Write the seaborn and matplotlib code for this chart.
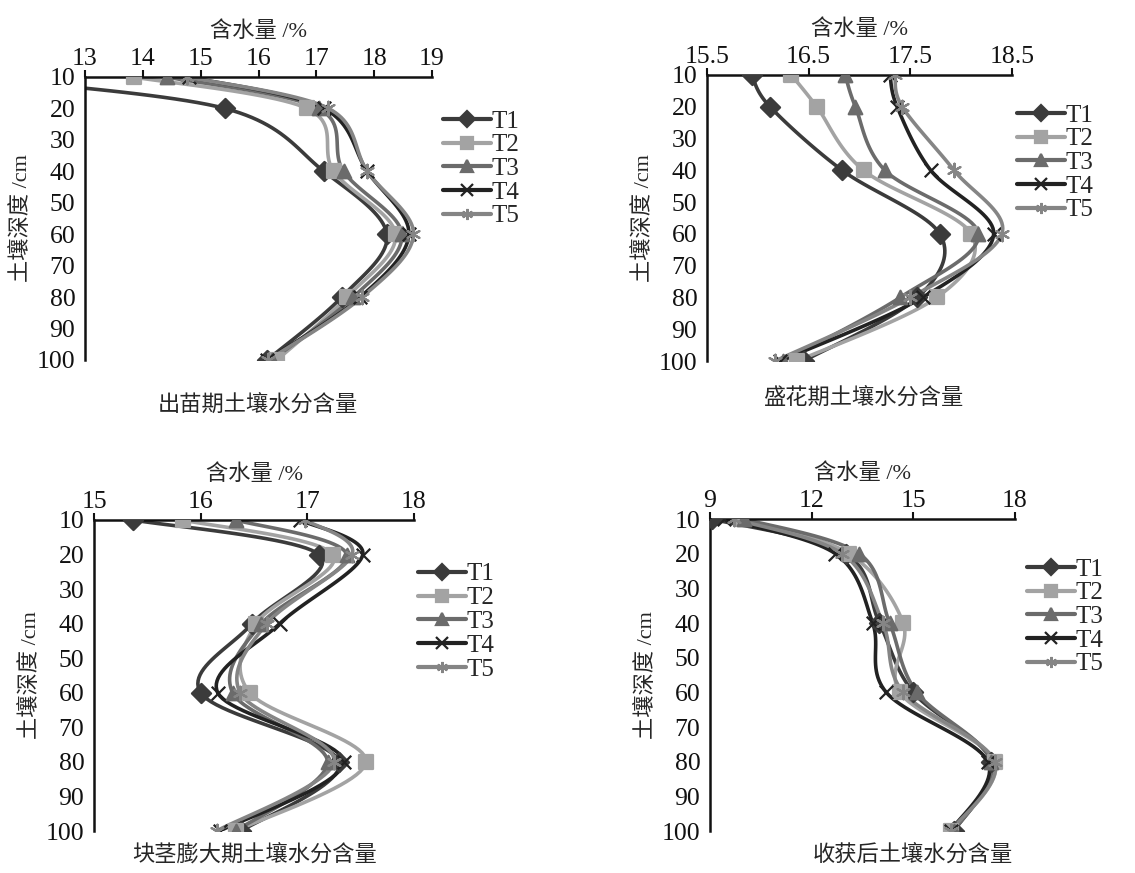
import numpy as np
import pandas as pd
import seaborn as sns
import matplotlib.pyplot as plt
from matplotlib.lines import Line2D

sns.set_style("white")
plt.rcParams['font.family'] = ['Liberation Serif', 'Noto Sans CJK SC', 'DejaVu Sans']

# depths (cm) of the measuring points
depth = [10, 20, 40, 60, 80, 100]
treatments = ['T1', 'T2', 'T3', 'T4', 'T5']

# soil water content (%)
seedling = {
    'T1': [11.0, 15.42, 17.13, 18.22, 17.44, 16.15],
    'T2': [13.84, 16.84, 17.30, 18.37, 17.53, 16.32],
    'T3': [14.41, 17.04, 17.47, 18.48, 17.64, 16.23],
    'T4': [14.79, 17.13, 17.88, 18.60, 17.76, 16.15],
    'T5': [14.76, 17.21, 17.88, 18.68, 17.79, 16.17],
}
flowering = {
    'T1': [15.94, 16.12, 16.83, 17.79, 17.57, 16.45],
    'T2': [16.33, 16.58, 17.04, 18.10, 17.76, 16.39],
    'T3': [16.86, 16.96, 17.25, 18.17, 17.40, 16.25],
    'T4': [17.30, 17.37, 17.70, 18.32, 17.62, 16.22],
    'T5': [17.35, 17.42, 17.93, 18.40, 17.50, 16.17],
}
tuber = {
    'T1': [15.37, 17.11, 16.48, 16.00, 17.30, 16.38],
    'T2': [15.83, 17.24, 16.52, 16.46, 17.55, 16.33],
    'T3': [16.33, 17.37, 16.57, 16.30, 17.19, 16.33],
    'T4': [16.93, 17.52, 16.74, 16.16, 17.34, 16.18],
    'T5': [16.98, 17.42, 16.62, 16.37, 17.25, 16.15],
}
harvest = {
    'T1': [9.05, 13.00, 14.00, 15.00, 17.30, 16.20],
    'T2': [9.90, 13.10, 14.70, 14.60, 17.40, 16.10],
    'T3': [10.00, 13.40, 14.30, 15.10, 17.30, 16.20],
    'T4': [9.40, 12.70, 13.80, 14.20, 17.20, 16.10],
    'T5': [9.70, 12.90, 14.10, 14.70, 17.40, 16.10],
}

colors = {'T1': '#3b3b3b', 'T2': '#a3a3a3', 'T3': '#6b6b6b', 'T4': '#222222', 'T5': '#858585'}
markers = {'T1': 'D', 'T2': 's', 'T3': '^', 'T4': 'x', 'T5': (6, 2, 0)}


def smooth(xs, ys, xr, n=24):
    # smoothed line like Excel (Catmull-Rom through the points)
    u = (np.asarray(xs) - xr[0]) / (xr[1] - xr[0])
    v = (np.asarray(ys) - 10) / 90.0
    p = np.column_stack([u, v])
    p = np.vstack([p[0], p, p[-1]])
    out = []
    t = np.linspace(0, 1, n)[:, None]
    for i in range(1, len(p) - 2):
        p0, p1, p2, p3 = p[i - 1], p[i], p[i + 1], p[i + 2]
        seg = 0.5 * ((2 * p1) + (-p0 + p2) * t + (2 * p0 - 5 * p1 + 4 * p2 - p3) * t ** 2
                     + (-p0 + 3 * p1 - 3 * p2 + p3) * t ** 3)
        out.append(seg)
    c = np.vstack(out)
    return c[:, 0] * (xr[1] - xr[0]) + xr[0], c[:, 1] * 90.0 + 10


fig = plt.figure(figsize=(11.35, 8.73), dpi=100)
W, H = 1135, 873


def px_axes(l, r, t, b):
    return fig.add_axes([l / W, 1 - b / H, (r - l) / W, (b - t) / H])


panels = [
    (seedling, (13, 19), [13, 14, 15, 16, 17, 18, 19], ['13', '14', '15', '16', '17', '18', '19'],
     (85, 432, 77, 360), '出苗期土壤水分含量', 258, 405, (443, 124)),
    (flowering, (15.5, 18.5), [15.5, 16.5, 17.5, 18.5], ['15.5', '16.5', '17.5', '18.5'],
     (707, 1012, 75, 361), '盛花期土壤水分含量', 863, 398, (1017, 118)),
    (tuber, (15, 18), [15, 16, 17, 18], ['15', '16', '17', '18'],
     (94, 414, 520, 831), '块茎膨大期土壤水分含量', 255, 855, (418, 577)),
    (harvest, (9, 18), [9, 12, 15, 18], ['9', '12', '15', '18'],
     (710, 1015, 519, 831), '收获后土壤水分含量', 913, 855, (1027, 572)),
]

for data, xr, xt, xtl, box, caption, cap_x, cap_y, leg_pos in panels:
    ax = px_axes(*box)
    for t in treatments:
        cx, cy = smooth(data[t], depth, xr)
        curve = pd.DataFrame({'x': cx, 'y': cy})
        sns.lineplot(data=curve, x='x', y='y', sort=False, estimator=None, ax=ax,
                     color=colors[t], lw=2.6, zorder=2)
        pts = pd.DataFrame({'x': data[t], 'y': depth})
        sns.scatterplot(data=pts, x='x', y='y', ax=ax, marker=markers[t], s=95,
                        color=colors[t], edgecolor=colors[t], linewidth=1.6, zorder=3)
    ax.set_xlim(*xr)
    ax.set_ylim(100, 10)
    ax.set_xticks(xt)
    ax.set_xticklabels(xtl)
    ax.set_yticks(range(10, 101, 10))
    ax.xaxis.tick_top()
    ax.xaxis.set_label_position('top')
    ax.tick_params(axis='both', direction='out', length=5, width=1.5, labelsize=18.5,
                   colors='#111111', pad=2)
    ax.tick_params(axis='x', pad=0)
    for s in ['right', 'bottom']:
        ax.spines[s].set_visible(False)
    for s in ['left', 'top']:
        ax.spines[s].set_linewidth(1.8)
        ax.spines[s].set_color('#111111')
    ax.set_xlabel('含水量 /%', fontsize=16, labelpad=8)
    ax.set_ylabel('土壤深度 /cm', fontsize=16, labelpad=3)
    fig.text(cap_x / W, 1 - cap_y / H, caption, ha='center', va='center', fontsize=16)
    ax.set_facecolor('none')

    handles = [Line2D([0], [0], color=colors[t], lw=3, marker=markers[t], markersize=8,
                      markeredgewidth=1.6) for t in treatments]
    lx, ly = leg_pos
    fig.legend(handles, treatments, loc='upper left', bbox_to_anchor=(lx / W, 1 - (ly - 14) / H),
               frameon=False, fontsize=18, handlelength=1.9, handletextpad=0.05,
               labelspacing=0.05, borderpad=0, borderaxespad=0)

plt.savefig('out.png', dpi=100)
